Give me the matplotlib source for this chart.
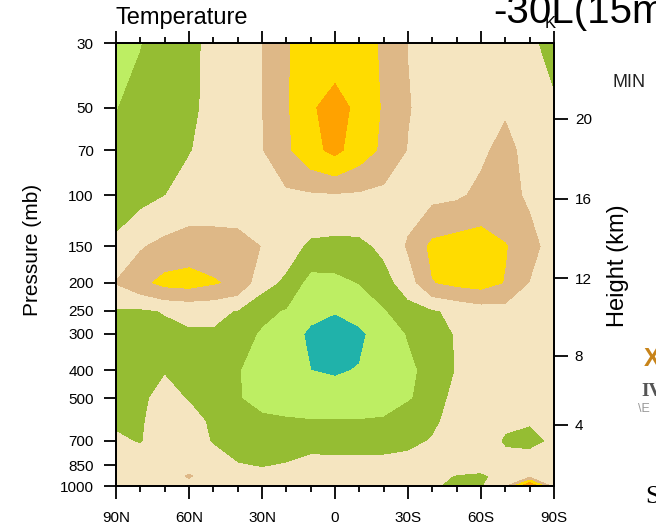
"""Zonal mean temperature difference: latitude-pressure cross section"""

import numpy as np
import matplotlib.pyplot as plt

plt.rcParams['font.family'] = ['Liberation Sans', 'DejaVu Sans']

# latitude columns, 90N -> 90S
lats = [90, 80, 70, 60, 50, 40, 30, 20, 10, 0,
        -10, -20, -30, -40, -50, -60, -70, -80, -90]
pressure = [1000, 925, 850, 700, 600, 500, 400, 300, 250, 200, 150, 100, 70, 50, 30]

# temperature difference (K), one row per pressure level
t1000 = [-0.2, -0.1, 0.0, 0.1, -0.1, -0.2, -0.2, -0.15, -0.1, -0.1, -0.1, -0.15, -0.2, -0.4, -0.7, -0.6, 0.3, 3.8, 0.0]
t925 = [-0.2, -0.1, 0.0, 0.6, -0.1, -0.3, -0.3, -0.2, -0.15, -0.15, -0.15, -0.2, -0.2, -0.3, -0.55, -0.6, -0.3, 0.1, 0.0]
t850 = [-0.1, -0.1, 0.0, 0.1, -0.2, -0.45, -0.55, -0.45, -0.25, -0.3, -0.3, -0.3, -0.2, -0.1, -0.2, -0.3, -0.2, -0.1, 0.0]
t700 = [-0.4, -0.55, -0.1, -0.2, -0.55, -0.9, -1.0, -0.9, -0.8, -0.75, -0.75, -0.75, -0.7, -0.45, -0.1, -0.1, -0.6, -0.7, -0.4]
t600 = [-0.6, -0.55, -0.3, -0.2, -0.65, -1.0, -1.35, -1.4, -1.45, -1.45, -1.45, -1.4, -1.2, -0.65, -0.2, 0.0, -0.35, -0.45, -0.3]
t500 = [-0.75, -0.65, -0.25, -0.55, -1.0, -1.45, -1.75, -1.9, -2.0, -2.1, -2.0, -1.9, -1.55, -1.3, 0.0, 0.0, 0.0, 0.0, 0.0]
t400 = [-0.8, -0.8, -0.55, -0.75, -1.05, -1.45, -1.9, -2.1, -2.5, -2.6, -2.45, -2.1, -1.7, -1.2, -0.45, 0.0, 0.0, 0.0, 0.0]
t300 = [-0.9, -0.85, -0.75, -0.6, -0.6, -1.0, -1.65, -2.0, -2.7, -2.9, -2.7, -2.0, -1.45, -0.8, -0.45, -0.1, 0.0, 0.0, -0.2]
t250 = [-0.6, -0.65, -0.45, -0.3, -0.3, -0.55, -1.2, -1.6, -2.2, -2.45, -2.1, -1.6, -0.9, -0.6, -0.3, 0.0, 0.1, 0.0, -0.1]
t200 = [0.55, 1.2, 1.8, 1.9, 1.6, 1.25, -0.15, -0.7, -1.9, -1.8, -1.47, -0.9, 0.0, 1.45, 1.75, 1.9, 1.45, 0.45, 0.0]
t150 = [-0.3, 0.4, 0.8, 1.0, 0.95, 0.75, 0.48, -0.1, -0.7, -0.8, -0.75, -0.3, 0.6, 1.75, 2.0, 2.1, 1.55, 0.95, -0.1]
t100 = [-1.0, -0.8, -0.52, -0.15, -0.1, 0.1, 0.2, 0.3, 0.35, 0.4, 0.35, 0.2, 0.15, 0.25, 0.35, 0.7, 0.9, 0.3, 0.0]
t70 = [-1.2, -1.0, -0.8, -0.55, -0.2, 0.05, 0.45, 1.3, 2.2, 2.75, 2.0, 1.3, 0.45, 0.2, 0.2, 0.35, 0.75, 0.2, -0.1]
t50 = [-1.55, -1.1, -0.9, -0.7, -0.25, 0.1, 0.47, 1.35, 2.45, 2.65, 2.4, 1.35, 0.55, 0.15, 0.15, 0.25, 0.4, 0.0, -0.35]
t30 = [-1.8, -1.55, -1.0, -0.7, -0.3, 0.1, 0.48, 1.4, 2.0, 2.3, 2.0, 1.32, 0.48, 0.1, 0.0, 0.0, 0.0, -0.3, -0.9]

levels = [-10, -2.5, -1.5, -0.5, 0.5, 1.5, 2.5, 3.5, 10]
colors = ['#20B2AA', '#BDEE63', '#95BD33', '#F5E5C0',
          '#DEB887', '#FFDC00', '#FFA200', '#F03C14']

xtick_vals = [90, 60, 30, 0, -30, -60, -90]
xtick_labels = ['90N', '60N', '30N', '0', '30S', '60S', '90S']
ptick_vals = [1000, 850, 700, 500, 400, 300, 250, 200, 150, 100, 70, 50, 30]
height_ticks = [4, 8, 12, 16, 20]


def height_to_pressure(h):
    """standard atmosphere, h in km -> mb"""
    if h <= 11:
        return 1013.25 * (1 - 0.0065 * h * 1000 / 288.15) ** 5.25588
    return 226.32 * np.exp(-(h - 11) * 1000 / 6341.62)


W, H = 656, 527
fig = plt.figure(figsize=(W / 100, H / 100), dpi=100)
ax = fig.add_axes([116 / W, 41 / H, 438 / W, 443 / H])

temp = np.array([t1000, t925, t850, t700, t600, t500, t400, t300,
                 t250, t200, t150, t100, t70, t50, t30])
ax.contourf(lats, pressure, temp, levels=levels, colors=colors)

ax.set_yscale('log')
ax.set_ylim(1000, 30)
ax.set_xlim(90, -90)
ax.set_yticks(ptick_vals)
ax.set_yticklabels([str(p) for p in ptick_vals])
ax.yaxis.set_minor_locator(plt.NullLocator())
ax.set_xticks(xtick_vals)
ax.set_xticklabels(xtick_labels)
ax.set_xticks(np.arange(-90, 91, 10), minor=True)

ax.tick_params(which='both', direction='out', top=True, right=False,
               width=1.3, labelsize=11)
ax.tick_params(which='major', length=9)
ax.tick_params(which='minor', length=4)
ax.tick_params(axis='x', pad=9)
ax.tick_params(axis='y', pad=7)
for s in ax.spines.values():
    s.set_linewidth(1.3)

ax2 = ax.twinx()
ax2.set_yscale('log')
ax2.set_ylim(1000, 30)
ax2.set_yticks([height_to_pressure(h) for h in height_ticks])
ax2.set_yticklabels([str(h) for h in height_ticks])
ax2.yaxis.set_minor_locator(plt.NullLocator())
ax2.tick_params(direction='out', length=10, width=1.3, labelsize=11, pad=5)
for s in ax2.spines.values():
    s.set_linewidth(1.3)


def ftext(x, y, s, **kw):
    fig.text(x / W, 1 - y / H, s, **kw)


ftext(116, 24, 'Temperature', fontsize=17, va='baseline')
ftext(493, 23, '-30L(15m', fontsize=29, va='baseline')
ftext(556, 28, 'K', fontsize=12, ha='right', va='baseline')
ftext(612, 87, 'MIN', fontsize=13, va='baseline', color='#222222')
ftext(32, 250, 'Pressure (mb)', fontsize=15, rotation=90, ha='center', va='center')
ftext(618, 266, 'Height (km)', fontsize=17, rotation=90, ha='center', va='center')

# clipped fragments at the right edge
ftext(644, 366, 'X', fontsize=18, fontweight='bold', color='#C8841A', va='baseline')
ftext(641, 396, 'IV', fontsize=14, fontweight='bold', color='#555555',
      family='Liberation Serif', va='baseline')
ftext(638, 412, '\\E', fontsize=9, color='#999999', va='baseline')
ftext(645, 503, 'S', fontsize=19, family='Liberation Serif', va='baseline')

fig.savefig('out.png', dpi=100)
